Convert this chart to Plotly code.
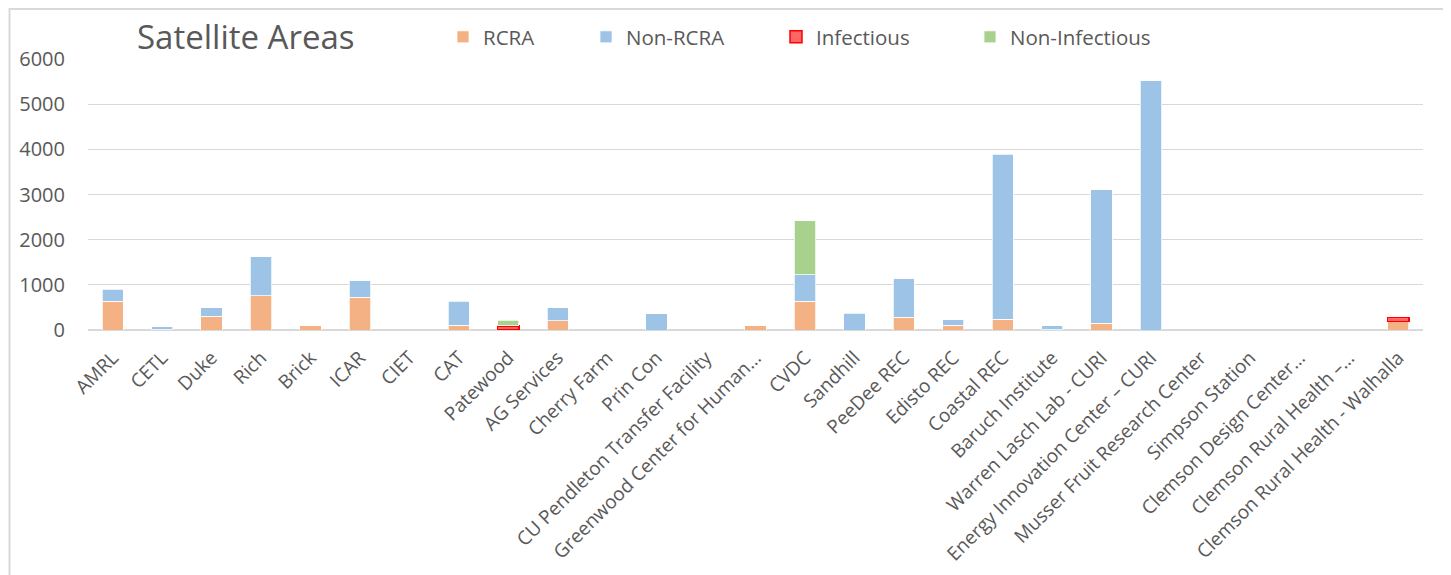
import plotly.graph_objects as go

categories = [
    "AMRL", "CETL", "Duke", "Rich", "Brick", "ICAR", "CIET", "CAT", "Patewood",
    "AG Services", "Cherry Farm", "Prin Con", "CU Pendleton Transfer Facility",
    "Greenwood Center for Human…", "CVDC", "Sandhill", "PeeDee REC", "Edisto REC",
    "Coastal REC", "Baruch Institute", "Warren Lasch Lab - CURI",
    "Energy Innovation Center – CURI", "Musser Fruit Research Center",
    "Simpson Station", "Clemson Design Center…", "Clemson Rural Health –…",
    "Clemson Rural Health - Walhalla",
]
rcra = [640, 10, 310, 760, 100, 725, 0, 100, 0, 205, 0, 0, 0, 110, 635, 0, 280, 110,
        240, 5, 150, 0, 0, 0, 0, 0, 185]
non_rcra = [260, 65, 180, 865, 0, 370, 0, 535, 0, 290, 0, 365, 0, 0, 590, 370, 860, 120,
            3650, 90, 2950, 5520, 0, 0, 0, 0, 0]
infectious = [None, None, None, None, None, None, None, None, 90, None, None, None, None,
              None, None, None, None, None, None, None, None, None, None, None, None,
              None, 95]
non_infectious = [None, None, None, None, None, None, None, None, 130, None, None, None,
                  None, None, 1190, None, None, None, None, None, None, None, None, None,
                  None, None, None]
y_ticks = [0, 1000, 2000, 3000, 4000, 5000, 6000]

# the page body has an 8px margin, so the figure is drawn from page (8, 8)
OFF = 8
W, H = 1451 - OFF, 575 - OFF
ML = 87.5 - OFF
MT = 59 - OFF
MR = W - (1423 - OFF)
MB = H - (330 - OFF)
PW, PH = W - ML - MR, H - MT - MB

def px(x):  # page x -> paper
    return (x - OFF - ML) / PW

def py(y):  # page y -> paper
    return (H - MB - (y - OFF)) / PH

FONT = "Open Sans"
GREY = "#595959"

fig = go.Figure()
fig.add_trace(go.Bar(x=categories, y=rcra, name="RCRA", legend="legend",
                     marker=dict(color="#F4B183", line=dict(color="white", width=0.75))))
fig.add_trace(go.Bar(x=categories, y=non_rcra, name="Non-RCRA", legend="legend2",
                     marker=dict(color="#9DC3E6", line=dict(color="white", width=0.75))))
fig.add_trace(go.Bar(x=categories, y=infectious, name="Infectious", legend="legend3",
                     marker=dict(color="#FF6666", line=dict(color="#FF0000", width=1.5))))
fig.add_trace(go.Bar(x=categories, y=non_infectious, name="Non-Infectious", legend="legend4",
                     marker=dict(color="#A9D18E", line=dict(color="white", width=0.75))))

leg_common = dict(orientation="h", xref="container", yref="container", xanchor="left",
                  yanchor="middle", y=1 - (37 - OFF) / H, bgcolor="rgba(0,0,0,0)",
                  font=dict(family=FONT, size=20.5, color=GREY), itemwidth=30, visible=True)

def lx(page_x):
    return (page_x - OFF) / W

shapes = [
    # chart frame
    dict(type="rect", xref="paper", yref="paper", x0=px(9), x1=px(1448), y0=py(600), y1=py(9),
         line=dict(color="#D9D9D9", width=2), fillcolor="rgba(0,0,0,0)", layer="below"),
]

fig.update_layout(
    width=W, height=H,
    margin=dict(l=ML, r=MR, t=MT, b=MB, autoexpand=False),
    paper_bgcolor="white", plot_bgcolor="white",
    barmode="stack", bargap=0.57, showlegend=True,
    title=dict(text="Satellite Areas", xref="container", yref="container",
               x=lx(137), xanchor="left", y=1 - (37 - OFF) / H, yanchor="middle",
               font=dict(family=FONT, size=33, color=GREY)),
    legend=dict(leg_common, x=lx(443)),
    legend2=dict(leg_common, x=lx(586)),
    legend3=dict(leg_common, x=lx(776)),
    legend4=dict(leg_common, x=lx(970)),
    xaxis=dict(tickangle=-45, tickfont=dict(family=FONT, size=19, color=GREY),
               showgrid=False, showline=False, ticks="", ticklabelstandoff=12),
    yaxis=dict(range=[0, 6000], tickvals=y_ticks, showgrid=True, gridcolor="#D9D9D9",
               gridwidth=1.3, zeroline=True, zerolinecolor="#D9D9D9", zerolinewidth=1.5,
               tickfont=dict(family=FONT, size=20, color=GREY), ticks="",
               ticklabelstandoff=22),
    shapes=shapes,
    font=dict(family=FONT, color=GREY),
)

fig.write_html("out.html")
